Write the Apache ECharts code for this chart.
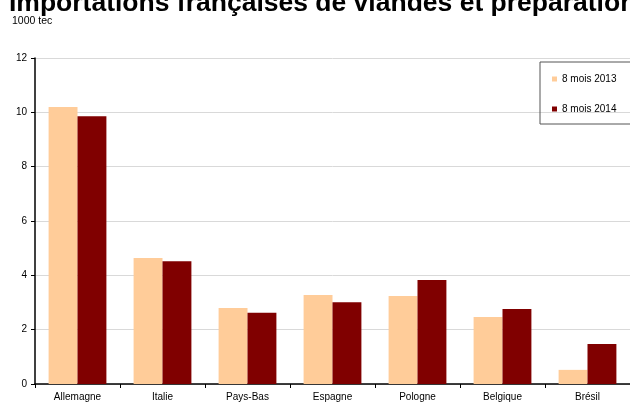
<!DOCTYPE html>
<html><head><meta charset="utf-8">
<script src="https://cdn.jsdelivr.net/npm/echarts@6/dist/echarts.min.js"></script>
<style>html,body{margin:0;padding:0;background:#fff}#c{width:630px;height:402px}</style>
</head><body><div id="c"></div>
<script>
const categories = ['Allemagne','Italie','Pays-Bas','Espagne','Pologne','Belgique','Brésil'];
const values2013 = [10.2, 4.64, 2.8, 3.28, 3.24, 2.47, 0.52];
const values2014 = [9.86, 4.52, 2.62, 3.01, 3.83, 2.76, 1.47];
const seriesNames = ['8 mois 2013', '8 mois 2014'];
const yTicks = [0, 2, 4, 6, 8, 10, 12];

const chart = echarts.init(document.getElementById('c'));
chart.setOption({
  animation: false,
  textStyle: {fontFamily: 'Liberation Sans, Arial, sans-serif'},
  title: [
    {text: 'Importations françaises de viandes et préparations', left: 9, top: -10, padding: 0,
     textStyle: {fontSize: 26.5, fontWeight: 'bold', color: '#000', fontFamily: 'Liberation Sans', lineHeight: 27}},
    {text: '1000 tec', left: 12, top: 16, padding: 0,
     textStyle: {fontSize: 10.5, fontWeight: 'normal', color: '#000', fontFamily: 'Liberation Sans'}}
  ],
  legend: {
    data: seriesNames, orient: 'vertical', left: 540, top: 62,
    borderColor: '#555', borderWidth: 1, padding: [12, 40, 10, 12],
    itemWidth: 5, itemHeight: 5, itemGap: 20, icon: 'rect',
    textStyle: {fontSize: 10, color: '#000', fontFamily: 'Liberation Sans'}
  },
  grid: {left: 35, right: 0, top: 58, bottom: 18, containLabel: false},
  xAxis: {
    type: 'category', data: categories,
    axisLine: {lineStyle: {color: '#000', width: 1.5}},
    axisTick: {show: true, length: 4, lineStyle: {color: '#000'}},
    axisLabel: {fontSize: 10, color: '#000', margin: 8}
  },
  yAxis: {
    type: 'value', min: 0, max: 12, interval: 2,
    axisLine: {show: true, lineStyle: {color: '#000', width: 1.5}},
    axisTick: {show: true, length: 4, lineStyle: {color: '#000'}},
    axisLabel: {fontSize: 10, color: '#000', margin: 8,
      formatter: v => yTicks.includes(v) ? String(v) : ''},
    splitLine: {lineStyle: {color: '#d9d9d9'}}
  },
  series: [
    {name: seriesNames[0], type: 'bar', data: values2013, barGap: '0%', barCategoryGap: '32%',
     itemStyle: {color: '#FFCC99'}},
    {name: seriesNames[1], type: 'bar', data: values2014, barGap: '0%', barCategoryGap: '32%',
     itemStyle: {color: '#800000'}}
  ]
});
</script></body></html>
